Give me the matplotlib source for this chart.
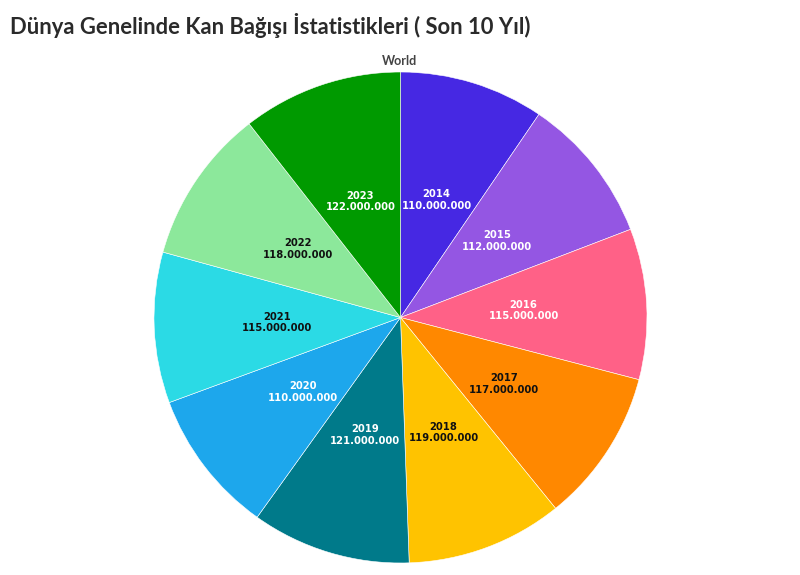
import matplotlib
matplotlib.use("Agg")
import matplotlib.pyplot as plt

years = ["2014", "2015", "2016", "2017", "2018", "2019", "2020", "2021", "2022", "2023"]
donors = [110000000, 112000000, 115000000, 117000000, 119000000,
          121000000, 110000000, 115000000, 118000000, 122000000]
colors = ["#4628e3", "#9456e3", "#ff6187", "#ff8800", "#ffc300",
          "#007a8a", "#1da7ec", "#2bdae5", "#8ce89b", "#009a00"]
text_colors = ["white", "white", "white", "#111111", "#111111",
               "white", "white", "#111111", "#111111", "white"]
title = "Dünya Genelinde Kan Bağışı İstatistikleri ( Son 10 Yıl)"
pie_name = "World"


def fmt(v):
    return f"{v:,}".replace(",", ".")


labels = [f"{y}\n{fmt(v)}" for y, v in zip(years, donors)]

fig = plt.figure(figsize=(8, 5.75), dpi=100)
ax = fig.add_axes([154 / 800, 12 / 575, 493 / 800, 491 / 575])

wedges, texts = ax.pie(
    donors, colors=colors, startangle=90, counterclock=False,
    labels=labels, labeldistance=0.5,
    wedgeprops=dict(edgecolor="white", linewidth=0.4),
    textprops=dict(fontsize=7.2, fontweight="bold", family="DejaVu Sans",
                   linespacing=1.2),
)
for t, c in zip(texts, text_colors):
    t.set_horizontalalignment("center")
    t.set_verticalalignment("center")
    t.set_color(c)

ax.set_xlim(-1, 1)
ax.set_ylim(-1, 1)
ax.set_aspect("auto")
ax.axis("off")

fig.text(10 / 800, 1 - 25 / 575, title, fontsize=15.8, fontweight="bold",
         family="Lato", color="#2a2a2a", ha="left", va="center")
fig.text(400 / 800, 1 - 61 / 575, pie_name, fontsize=9, fontweight="bold",
         family="Lato", color="#444444", ha="center", va="center")

fig.savefig("out.png", dpi=100, facecolor="white")
